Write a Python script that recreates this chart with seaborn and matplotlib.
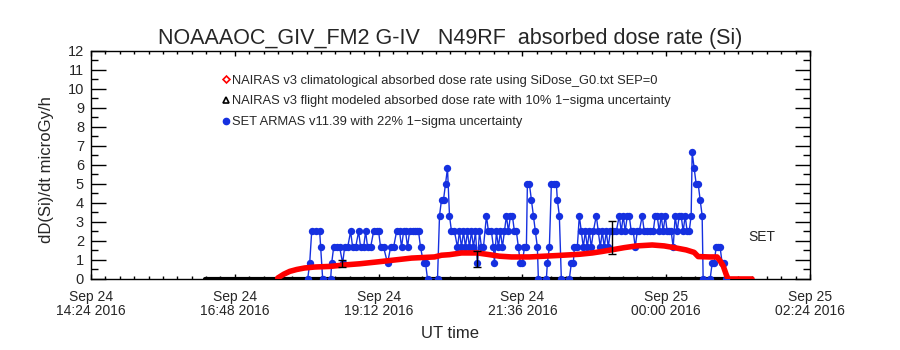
import matplotlib
matplotlib.use("Agg")
import matplotlib.pyplot as plt
import matplotlib.dates as mdates
from matplotlib.ticker import MultipleLocator, FixedLocator
from matplotlib.lines import Line2D
import seaborn as sns
import pandas as pd

# time axis: minutes after Sep 24 2016 14:24 UT
t0 = pd.Timestamp("2016-09-24 14:24")

# NAIRAS v3 flight modeled (sits on zero over the flight)
flight_min = [114, 636]
flight_dose = [0.0, 0.0]

# NAIRAS v3 climatological dose rate
clim_min = [187, 193, 199, 206, 214, 224, 239, 254, 269, 287,
            304, 321, 344, 351, 359, 371, 387, 399, 409, 421,
            439, 454, 469, 489, 502, 512, 521, 534, 546, 562,
            574, 584, 596, 604, 608, 619, 627, 630, 633, 636,
            638, 662]
clim_dose = [0.05, 0.25, 0.4, 0.5, 0.58, 0.63, 0.66, 0.74, 0.8, 0.9,
             1.0, 1.1, 1.16, 1.25, 1.28, 1.37, 1.37, 1.28, 1.2, 1.16,
             1.16, 1.2, 1.24, 1.3, 1.37, 1.45, 1.53, 1.65, 1.74, 1.79,
             1.74, 1.65, 1.53, 1.4, 1.18, 1.16, 1.16, 0.95, 0.7, 0.25,
             0.0, 0.0]

# SET ARMAS v11.39 measurements
set_min = [217, 219, 221, 225, 229, 230, 232, 240, 241, 243,
           246, 249, 252, 254, 257, 260, 262, 265, 268, 270,
           273, 275, 277, 280, 283, 286, 288, 290, 293, 297,
           300, 303, 306, 309, 311, 313, 315, 317, 319, 322,
           324, 326, 328, 330, 333, 335, 337, 347, 349, 351,
           353, 355, 357, 359, 361, 364, 367, 369, 371, 373,
           375, 377, 379, 381, 383, 385, 387, 389, 391, 393,
           396, 398, 401, 403, 404, 406, 408, 410, 412, 414,
           416, 418, 420, 422, 424, 426, 428, 430, 432, 434,
           436, 437, 439, 441, 443, 445, 447, 448, 456, 457,
           459, 461, 464, 466, 467, 469, 471, 479, 481, 483,
           484, 487, 489, 491, 493, 495, 497, 499, 501, 503,
           506, 508, 510, 512, 514, 516, 518, 520, 523, 526,
           529, 531, 533, 535, 537, 539, 541, 543, 545, 547,
           549, 552, 554, 557, 560, 563, 565, 567, 569, 571,
           573, 575, 577, 579, 581, 583, 585, 587, 589, 591,
           593, 595, 597, 599, 601, 602, 604, 606, 608, 610,
           612, 613, 620, 622, 624, 626, 628, 630, 632, 634, 636]
set_dose = [0, 0.83, 2.5, 2.5, 2.5, 1.67, 0, 0, 0.83, 1.67,
            1.67, 1.67, 0.83, 1.67, 1.67, 2.5, 1.67, 1.67, 2.5, 1.67,
            1.67, 2.5, 1.67, 1.67, 2.5, 2.5, 2.5, 1.67, 1.67, 0.83,
            1.67, 1.67, 2.5, 2.5, 1.67, 2.5, 2.5, 1.67, 2.5, 2.5,
            2.5, 2.5, 2.5, 1.67, 0.83, 0.83, 0, 0, 3.33, 4.17,
            4.17, 5.0, 5.83, 3.33, 2.5, 2.5, 1.67, 2.5, 1.67, 2.5,
            1.67, 2.5, 1.67, 2.5, 1.67, 2.5, 0.83, 2.5, 1.67, 1.67,
            3.33, 2.5, 2.5, 1.67, 0.83, 2.5, 1.67, 2.5, 1.67, 2.5,
            3.33, 2.5, 3.33, 3.33, 2.5, 2.5, 1.67, 0.83, 0.83, 1.67,
            1.67, 5.0, 5.0, 4.17, 3.33, 2.5, 1.67, 0, 0, 0.83,
            1.67, 5.0, 5.0, 5.0, 4.17, 3.33, 0, 0, 0.83, 0.83,
            1.67, 1.67, 3.33, 2.5, 1.67, 2.5, 1.67, 2.5, 1.67, 2.5,
            3.33, 2.5, 1.67, 2.5, 1.67, 2.5, 1.67, 2.5, 2.5, 2.5,
            3.33, 2.5, 3.33, 2.5, 3.33, 3.33, 2.5, 2.5, 1.67, 2.5,
            2.5, 3.33, 2.5, 2.5, 2.5, 2.5, 3.33, 3.33, 2.5, 3.33,
            2.5, 3.33, 2.5, 2.5, 2.5, 1.67, 3.33, 2.5, 3.33, 3.33,
            2.5, 3.33, 2.5, 2.5, 3.33, 6.67, 5.83, 5.0, 5.0, 4.17,
            3.33, 0, 0, 0.83, 0.83, 1.67, 1.67, 1.67, 0.83, 0.83, 0]

# a few 1-sigma error bars
err_min = [251, 387, 522]
err_dose = [0.82, 1.05, 2.18]
err_size = [0.18, 0.42, 0.87]

labels = ["NAIRAS v3 climatological absorbed dose rate using SiDose_G0.txt SEP=0",
          "NAIRAS v3 flight modeled absorbed dose rate with 10% 1\u2212sigma uncertainty",
          "SET ARMAS v11.39 with 22% 1\u2212sigma uncertainty"]

def to_time(m):
    return t0 + pd.to_timedelta(m, unit="min")

flight = pd.DataFrame({"t": to_time(flight_min), "dose": flight_dose})
clim = pd.DataFrame({"t": to_time(clim_min), "dose": clim_dose})
arm = pd.DataFrame({"t": to_time(set_min), "dose": set_dose})

sns.set_style("ticks")
plt.rcParams["font.family"] = ["Liberation Sans", "DejaVu Sans"]
blue = "#1530e0"

fig = plt.figure(figsize=(9, 3.5), dpi=100)
ax = fig.add_axes([0.1011, 0.2029, 0.7989, 0.6514])

sns.lineplot(data=flight, x="t", y="dose", color="black", linewidth=3,
             ax=ax, legend=False, zorder=3)
sns.lineplot(data=arm, x="t", y="dose", color=blue, linewidth=1,
             marker="o", markersize=5.3, markeredgewidth=0,
             estimator=None, sort=False, ax=ax, legend=False, zorder=4)
sns.lineplot(data=clim, x="t", y="dose", color="red", linewidth=4,
             estimator=None, ax=ax, legend=False, zorder=5)
ax.errorbar(to_time(err_min), err_dose, yerr=err_size, fmt="none",
            ecolor="black", elinewidth=1, capsize=3, capthick=1, zorder=6)

start = t0
end = t0 + pd.Timedelta(hours=12)
ax.set_xlim(start, end)
ax.set_ylim(0, 12)

major = pd.date_range(start, end, freq="144min")
minor = pd.date_range(start, end, freq="864s")
ax.xaxis.set_major_locator(FixedLocator(mdates.date2num(major)))
ax.xaxis.set_minor_locator(FixedLocator(mdates.date2num(minor)))
ax.xaxis.set_major_formatter(mdates.DateFormatter("%b %d\n%H:%M %Y"))
ax.yaxis.set_major_locator(MultipleLocator(1))
ax.yaxis.set_minor_locator(MultipleLocator(0.5))

ax.tick_params(which="both", direction="in", top=True, right=True,
               color="black", width=1)
ax.tick_params(axis="x", which="major", length=3.5, pad=8)
ax.tick_params(axis="x", which="minor", length=2.2)
ax.tick_params(axis="y", which="major", length=10.5, pad=5)
ax.tick_params(axis="y", which="minor", length=5.2)
for s in ax.spines.values():
    s.set_color("black")
    s.set_linewidth(1)

plt.setp(ax.get_xticklabels(), fontsize=10, linespacing=0.95)
plt.setp(ax.get_yticklabels(), fontsize=10.5)

ax.set_xlabel("UT time", fontsize=12, labelpad=6)
ax.set_ylabel("dD(Si)/dt microGy/h", fontsize=12)
ax.yaxis.set_label_coords(-0.052, 0.48)
ax.set_title("NOAAAOC_GIV_FM2 G-IV   N49RF  absorbed dose rate (Si)",
             fontsize=15.5, pad=5)

handles = [
    Line2D([], [], ls="none", marker="D", markersize=3.5, mfc="white",
           mec="red", mew=1.2),
    Line2D([], [], ls="none", marker="^", markersize=4, mfc="white",
           mec="black", mew=1.2),
    Line2D([], [], ls="none", marker="o", markersize=4.5, mfc=blue,
           mec=blue),
]
ax.legend(handles, labels, loc="upper left", bbox_to_anchor=(0.182, 0.897),
          frameon=False, fontsize=9.3, handlelength=0.6, handletextpad=0.2,
          labelspacing=0.68, borderpad=0, borderaxespad=0)

ax.text(0.914, 0.182, "SET", transform=ax.transAxes,
        fontsize=10, va="center", ha="left")

fig.savefig("out.png", dpi=100)
